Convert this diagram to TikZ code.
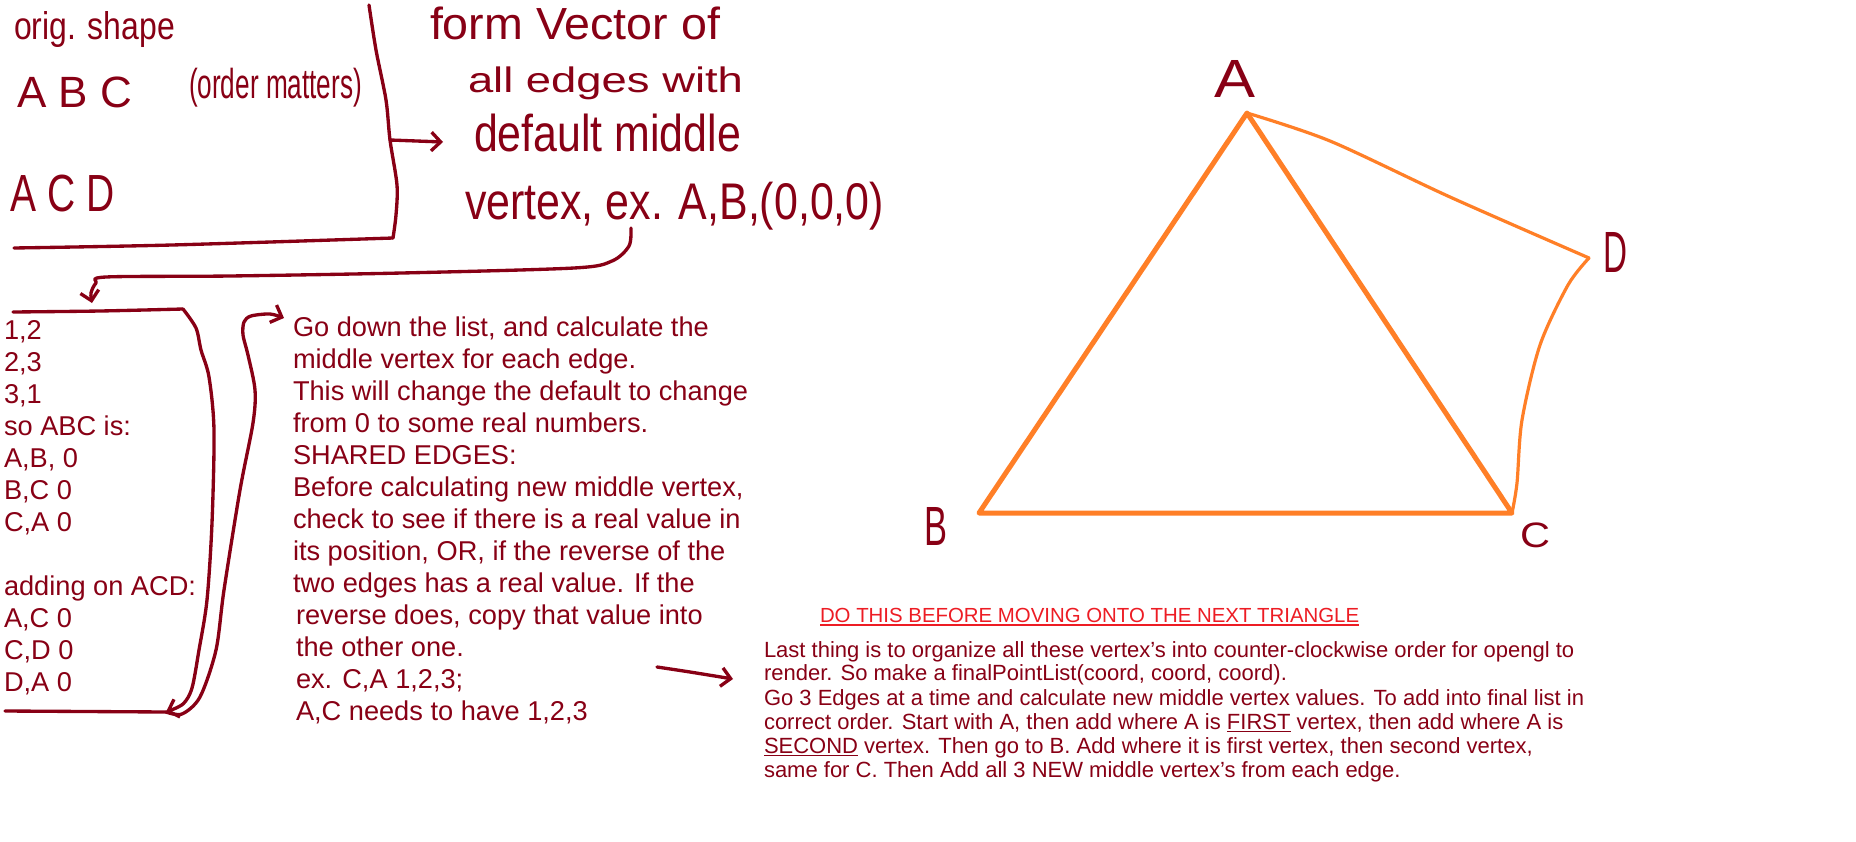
\documentclass[tikz,border=0pt]{standalone}
\usepackage{fontspec}
\setmainfont{Liberation Sans}
\usetikzlibrary{arrows.meta}
\definecolor{dred}{RGB}{136,0,21}
\definecolor{pred}{RGB}{237,28,36}
\definecolor{porange}{RGB}{255,127,39}
\newlength\pxu
\setlength\pxu{0.75pt}
\newcommand\hw[3]{\resizebox*{#1\pxu}{#2\pxu}{#3}}
\newcommand\myul[1]{\vtop{\hbox{#1}\kern1.3pt\hrule height 1pt}}
\begin{document}
\begin{tikzpicture}[x=0.75pt,y=-0.75pt,
  hand/.style={inner sep=0pt, outer sep=0pt, text=dred, anchor=north west},
  txt/.style={inner sep=0pt, outer sep=0pt, text=dred, anchor=base west, font=\fontsize{20.4pt}{24pt}\selectfont},
  para/.style={inner sep=0pt, outer sep=0pt, text=dred, anchor=base west, font=\fontsize{16.5pt}{19pt}\selectfont},
  titletxt/.style={inner sep=0pt, outer sep=0pt, text=pred, anchor=base west, font=\fontsize{15.3pt}{19pt}\selectfont},
  stroke/.style={draw=dred, line width=2.5pt, line cap=round, line join=round},
  harrow/.style={stroke, -{Straight Barb[length=7pt,width=14pt]}},
  thickedge/.style={draw=porange, line width=3.75pt, line cap=round, line join=round},
  thinedge/.style={draw=porange, line width=2.4pt, line cap=round, line join=round}]
\useasboundingbox (0,0) rectangle (1856,842);
\fill[white] (0,0) rectangle (1856,842);

% ---------- handwritten notes (top left) ----------
\node[hand] (orig) at (14,12) {\hw{161}{36}{orig. shape}};
\node[hand] (abc) at (17,77) {\hw{115}{31}{A B C}};
\node[hand] (order) at (189,68) {\hw{173}{39}{(order matters)}};
\node[hand] (acd) at (11,175) {\hw{104}{37}{A C D}};
\node[hand] (form) at (430,7) {\hw{290}{33}{form Vector of}};
\node[hand] (alle) at (468,67) {\hw{275}{33}{all edges with}};
\node[hand] (defm) at (474,114) {\hw{267}{38}{default middle}};
\node[hand] (vtx) at (465,182) {\hw{419}{48}{vertex, ex. A,B,(0,0,0)}};

% vertical divider, bottom line and arrow
\coordinate (vtop) at (369,5);
\coordinate (vj) at (390,140);
\coordinate (vbot) at (393,238);
\coordinate (hl) at (14,248);
\coordinate (vjend) at (443,142);
\draw[stroke] plot[smooth] coordinates {(vtop) (376,50) (386,100) (vj) (397,185) (396,215) (vbot)};
\draw[stroke] plot[smooth] coordinates {(hl) (172,245) (vbot)};
\draw[harrow] (vj) -- (vjend);

% curved arrow from vertex text down to the list
\coordinate (cstart) at (631,228);
\coordinate (cend) at (92,303);
\draw[harrow] plot[smooth] coordinates {(cstart) (629,246) (612,261) (574,268) (402,273) (230,276) (106,277) (96,283) (91,293) (cend)};

% ---------- list ----------
\node[txt] (l1) at (4,339) {1,2};
\node[txt] (l2) at (4,371) {2,3};
\node[txt] (l3) at (4,403) {3,1};
\node[txt] (l4) at (4,435) {so ABC is:};
\node[txt] (l5) at (4,467) {A,B, 0};
\node[txt] (l6) at (4,499) {B,C 0};
\node[txt] (l7) at (4,531) {C,A 0};
\node[txt] (l8) at (4,595) {adding on ACD:};
\node[txt] (l9) at (4,627) {A,C 0};
\node[txt] (l10) at (4,659) {C,D 0};
\node[txt] (l11) at (4,691) {D,A 0};

% bracket
\coordinate (btl) at (13,312);
\coordinate (btr) at (183,309);
\coordinate (bbl) at (5,711);
\coordinate (btip) at (166,712);
\coordinate (oend) at (284,318);
\draw[stroke] plot[smooth] coordinates {(btl) (100,311) (btr)};
\draw[stroke] (bbl) -- (btip);
\draw[harrow] plot[smooth] coordinates {(btr) (196,328) (201,350) (209,377) (214,430) (212,523) (207,600) (199,650) (192,688) (183,704) (btip)};
\draw[harrow] plot[smooth] coordinates {(btip) (182,714) (200,697) (216,650) (224,590) (240,490) (253,423) (255,390) (248,355) (243,335) (244,322) (251,316) (270,314) (oend)};

% ---------- right explanation ----------
\node[txt] (r1) at (293,336) {Go down the list, and calculate the};
\node[txt] (r2) at (293,368) {middle vertex for each edge.};
\node[txt] (r3) at (293,400) {This will change the default to change};
\node[txt] (r4) at (293,432) {from 0 to some real numbers.};
\node[txt] (r5) at (293,464) {SHARED EDGES:};
\node[txt] (r6) at (293,496) {Before calculating new middle vertex,};
\node[txt] (r7) at (293,528) {check to see if there is a real value in};
\node[txt] (r8) at (293,560) {its position, OR, if the reverse of the};
\node[txt] (r9) at (293,592) {two edges has a real value. If the};
\node[txt] (r10) at (296,624) {reverse does, copy that value into};
\node[txt] (r11) at (296,656) {the other one.};
\node[txt] (r12) at (296,688) {ex. C,A 1,2,3;};
\node[txt] (r13) at (296,720) {A,C needs to have 1,2,3};

% arrow to final paragraph
\coordinate (a7s) at (657,667);
\coordinate (a7e) at (733,679);
\draw[harrow] plot[smooth] coordinates {(a7s) (690,672) (a7e)};

% ---------- bottom right paragraph ----------
\node[titletxt] (title) at (820,622) {DO THIS BEFORE MOVING ONTO THE NEXT TRIANGLE};
\draw[pred, line width=1.5pt] ([yshift=-2.4pt]title.base west) -- ([yshift=-2.4pt]title.base east);
\node[para] (p1) at (764,657) {Last thing is to organize all these vertex's into counter-clockwise order for opengl to};
\node[para] (p2) at (764,680) {render. So make a finalPointList(coord, coord, coord).};
\node[para] (p3) at (764,705) {Go 3 Edges at a time and calculate new middle vertex values. To add into final list in};
\node[para] (p4) at (764,729) {correct order. Start with A, then add where A is \myul{FIRST} vertex, then add where A is};
\node[para] (p5) at (764,753) {\myul{SECOND} vertex. Then go to B. Add where it is first vertex, then second vertex,};
\node[para] (p6) at (764,777) {same for C. Then Add all 3 NEW middle vertex's from each edge.};

% ---------- triangle sketch ----------
\coordinate (A) at (1247,113);
\coordinate (B) at (979,513);
\coordinate (C) at (1512,513);
\coordinate (D) at (1589,258);
\draw[thinedge] plot[smooth, tension=0.5] coordinates {(A) (1330,141) (1450,197) (D)};
\draw[thinedge] plot[smooth, tension=0.5] coordinates {(D) (1568,285) (1540,345) (1522,420) (1517,483) (C)};
\draw[thickedge] (A) -- (B) -- (C) -- cycle;
\node[hand] (la) at (1214,60) {\hw{41}{37}{A}};
\node[hand] (lb) at (924,507) {\hw{23}{38}{B}};
\node[hand] (lc) at (1520,523) {\hw{30}{25}{C}};
\node[hand] (ld) at (1603,232) {\hw{24}{40}{D}};
\end{tikzpicture}
\end{document}
